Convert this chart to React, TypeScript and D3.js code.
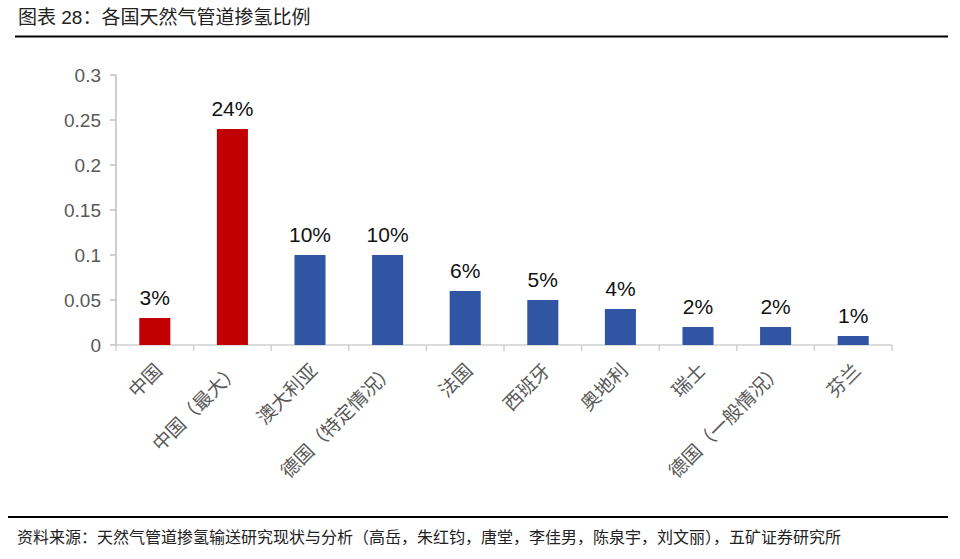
import React from 'react';
import * as d3 from 'd3';

const categories = [
  '中国',
  '中国（最大）',
  '澳大利亚',
  '德国（特定情况）',
  '法国',
  '西班牙',
  '奥地利',
  '瑞士',
  '德国（一般情况）',
  '芬兰',
];
const values = [0.03, 0.24, 0.1, 0.1, 0.06, 0.05, 0.04, 0.02, 0.02, 0.01];
const valueLabels = ['3%', '24%', '10%', '10%', '6%', '5%', '4%', '2%', '2%', '1%'];
const highlighted = [true, true, false, false, false, false, false, false, false, false];
const yTicks = [0, 0.05, 0.1, 0.15, 0.2, 0.25, 0.3];
const yTickLabels = ['0', '0.05', '0.1', '0.15', '0.2', '0.25', '0.3'];

const W = 960;
const H = 559;
const font = '"Liberation Sans", Arial, "Noto Sans CJK SC", sans-serif';

export default function App() {
  const left = 116;
  const right = 892;
  const top = 75;
  const bottom = 345;

  const x = d3.scaleBand<string>().domain(categories).range([left, right]).paddingInner(0.6).paddingOuter(0.3);
  const band = d3.scaleBand<string>().domain(categories).range([left, right]);
  const y = d3.scaleLinear().domain([0, 0.3]).range([bottom, top]);

  return (
    <svg
      width={W}
      height={H}
      style={{ position: 'absolute', left: 0, top: 0, background: '#fff' }}
      fontFamily={font}
    >
      <text x={18} y={24} fontSize={19} fill="#222">
        图表 28：各国天然气管道掺氢比例
      </text>
      <line x1={15} x2={948} y1={36.5} y2={36.5} stroke="#000" strokeWidth={2} />

      {/* y axis */}
      <line x1={left} x2={left} y1={top} y2={bottom} stroke="#bfbfbf" strokeWidth={1.5} />
      {yTicks.map((t, i) => (
        <g key={t}>
          <line x1={left - 6} x2={left} y1={y(t)} y2={y(t)} stroke="#bfbfbf" strokeWidth={1.5} />
          <text x={left - 15} y={y(t)} dy="0.35em" textAnchor="end" fontSize={19} fill="#595959">
            {yTickLabels[i]}
          </text>
        </g>
      ))}

      {/* x axis */}
      <line x1={left} x2={right} y1={bottom} y2={bottom} stroke="#d0d0d0" strokeWidth={1.5} />
      {categories.map((c) => (
        <line
          key={'t' + c}
          x1={band(c)! + band.bandwidth()}
          x2={band(c)! + band.bandwidth()}
          y1={bottom}
          y2={bottom + 6}
          stroke="#d0d0d0"
          strokeWidth={1.5}
        />
      ))}
      <line x1={left} x2={left} y1={bottom} y2={bottom + 6} stroke="#d0d0d0" strokeWidth={1.5} />

      {categories.map((c, i) => {
        const cx = x(c)! + x.bandwidth() / 2;
        return (
          <g key={c}>
            <rect
              x={x(c)}
              y={y(values[i])}
              width={x.bandwidth()}
              height={bottom - y(values[i])}
              fill={highlighted[i] ? '#c00000' : '#2f55a3'}
            />
            <text x={cx} y={y(values[i]) - 13} textAnchor="middle" fontSize={21} fill="#111">
              {valueLabels[i]}
            </text>
            <text
              transform={`translate(${cx + 4},${bottom + 22}) rotate(-45)`}
              textAnchor="end"
              dy="0.35em"
              fontSize={19}
              fill="#595959"
            >
              {c}
            </text>
          </g>
        );
      })}

      <line x1={8} x2={948} y1={517} y2={517} stroke="#000" strokeWidth={2} />
      <text x={17} y={543} fontSize={16} fill="#222">
        资料来源：天然气管道掺氢输送研究现状与分析（高岳，朱红钧，唐堂，李佳男，陈泉宇，刘文丽），五矿证券研究所
      </text>
    </svg>
  );
}
